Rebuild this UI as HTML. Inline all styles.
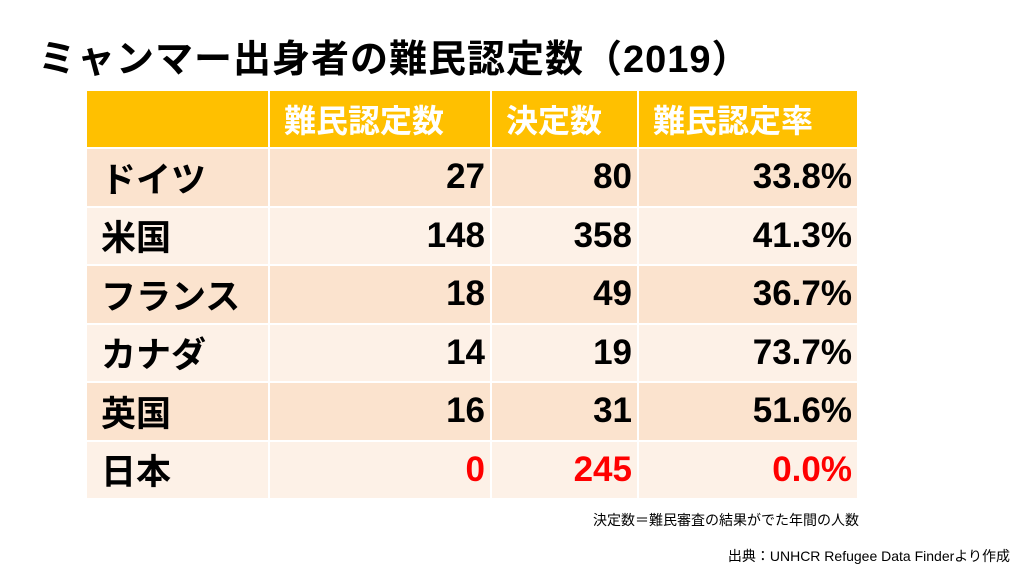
<!DOCTYPE html>
<html><head><meta charset="utf-8"><style>
body{margin:0;width:1024px;height:576px;background:#fff;font-family:"Liberation Sans","Noto Sans CJK JP",sans-serif;position:relative;overflow:hidden}
.t{position:absolute;left:38px;top:28px;font-size:38px;font-weight:bold;color:#000;white-space:nowrap;letter-spacing:1px}
table{position:absolute;left:85px;top:89px;border-collapse:collapse}
td{border:2px solid #fff;font-weight:bold;font-size:35px;padding:0 5px;height:58.5px;color:#000;box-sizing:border-box}
tr.h td{background:#FFC000;color:#fff;height:58px;font-size:32px;padding-left:14px}
tr.a td{background:#FBE3CE}
tr.b td{background:#FDF1E7}
td.n{text-align:right}
td.l{padding-left:14px}
.r{color:#f00}
.s1{position:absolute;right:165px;top:510px;font-size:14px;color:#000}
.s2{position:absolute;right:14px;top:546px;font-size:14px;color:#000}
</style></head><body>
<div class="t">ミャンマー出身者の難民認定数（2019）</div>
<table>
<colgroup><col style="width:183px"><col style="width:222px"><col style="width:147px"><col style="width:220px"></colgroup>
<tr class="h"><td></td><td>難民認定数</td><td>決定数</td><td>難民認定率</td></tr>
<tr class="a"><td class="l">ドイツ</td><td class="n">27</td><td class="n">80</td><td class="n">33.8%</td></tr>
<tr class="b"><td class="l">米国</td><td class="n">148</td><td class="n">358</td><td class="n">41.3%</td></tr>
<tr class="a"><td class="l">フランス</td><td class="n">18</td><td class="n">49</td><td class="n">36.7%</td></tr>
<tr class="b"><td class="l">カナダ</td><td class="n">14</td><td class="n">19</td><td class="n">73.7%</td></tr>
<tr class="a"><td class="l">英国</td><td class="n">16</td><td class="n">31</td><td class="n">51.6%</td></tr>
<tr class="b"><td class="l">日本</td><td class="n r">0</td><td class="n r">245</td><td class="n r">0.0%</td></tr>
</table>
<div class="s1">決定数＝難民審査の結果がでた年間の人数</div>
<div class="s2">出典：UNHCR Refugee Data Finderより作成</div>
</body></html>
